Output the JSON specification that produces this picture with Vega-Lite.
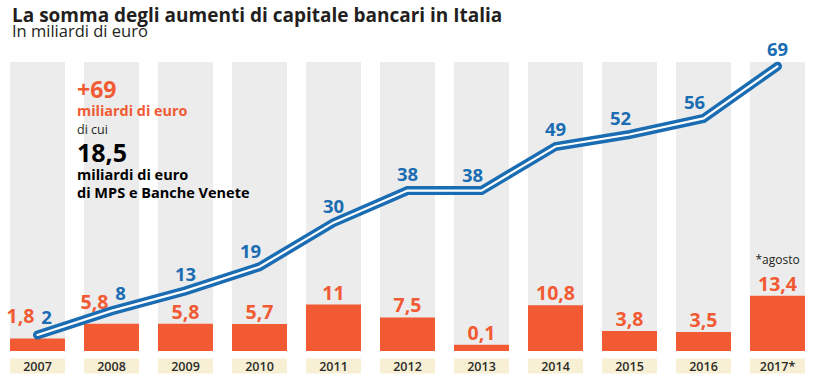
{
  "$schema": "https://vega.github.io/schema/vega-lite/v6.json",
  "width": 795,
  "height": 289,
  "autosize": {"type": "none"},
  "padding": {"left": 10, "top": 62, "right": 14, "bottom": 41},
  "background": "white",
  "title": {
    "text": "La somma degli aumenti di capitale bancari in Italia",
    "subtitle": "In miliardi di euro",
    "anchor": "start",
    "frame": "group",
    "dx": 2,
    "offset": 1,
    "font": "Open Sans",
    "fontSize": 19,
    "fontWeight": "bold",
    "color": "#231f20",
    "subtitleFont": "Open Sans",
    "subtitleFontSize": 16.5,
    "subtitleColor": "#231f20",
    "subtitlePadding": -2
  },
  "config": {
    "view": {"stroke": null},
    "locale": {"number": {"decimal": ",", "thousands": ".", "grouping": [3], "currency": ["", " €"]}},
    "text": {"font": "Open Sans", "fontWeight": "bold"}
  },
  "data": {
    "values": [
      {"year": "2007", "aumenti": 1.8, "cumulato": 2},
      {"year": "2008", "aumenti": 5.8, "cumulato": 8},
      {"year": "2009", "aumenti": 5.8, "cumulato": 13},
      {"year": "2010", "aumenti": 5.7, "cumulato": 19},
      {"year": "2011", "aumenti": 11, "cumulato": 30},
      {"year": "2012", "aumenti": 7.5, "cumulato": 38},
      {"year": "2013", "aumenti": 0.1, "cumulato": 38},
      {"year": "2014", "aumenti": 10.8, "cumulato": 49},
      {"year": "2015", "aumenti": 3.8, "cumulato": 52},
      {"year": "2016", "aumenti": 3.5, "cumulato": 56},
      {"year": "2017*", "aumenti": 13.4, "cumulato": 69, "note": "*agosto"}
    ]
  },
  "encoding": {
    "x": {
      "field": "year",
      "type": "nominal",
      "sort": null,
      "scale": {"paddingInner": 0.257, "paddingOuter": 0},
      "axis": {
        "title": null,
        "orient": "bottom",
        "offset": 7,
        "domain": false,
        "grid": false,
        "ticks": true,
        "tickSize": 15,
        "tickWidth": 55,
        "tickCap": "butt",
        "tickColor": "#f7f0d4",
        "labelAngle": 0,
        "labelBaseline": "middle",
        "labelPadding": -7,
        "labelFont": "Open Sans",
        "labelFontSize": 12.5,
        "labelFontWeight": 600,
        "labelColor": "#2b2b2b",
        "labelOverlap": false
      }
    }
  },
  "layer": [
    {
      "layer": [
        {"mark": {"type": "bar", "color": "#ececec"}},
        {
          "mark": {"type": "bar", "color": "#f15a33"},
          "encoding": {
            "y": {"field": "aumenti", "type": "quantitative", "scale": {"domain": [-1.63, 76.9], "zero": false, "nice": false}, "axis": null},
            "y2": {"datum": -1.63}
          }
        },
        {
          "transform": [{"filter": "datum.year != '2007' && datum.year != '2008'"}],
          "mark": {"type": "text", "baseline": "alphabetic", "dy": -5, "fontSize": 19.5, "color": "#f15a33"},
          "encoding": {
            "y": {"field": "aumenti", "type": "quantitative", "scale": {"domain": [-1.63, 76.9], "zero": false, "nice": false}, "axis": null},
            "text": {"field": "aumenti", "type": "quantitative", "format": ".1~f"}
          }
        },
        {
          "transform": [{"filter": "datum.year == '2007' || datum.year == '2008'"}],
          "mark": {"type": "text", "baseline": "alphabetic", "dy": -15, "dx": -17, "fontSize": 19.5, "color": "#f15a33"},
          "encoding": {
            "y": {"field": "aumenti", "type": "quantitative", "scale": {"domain": [-1.63, 76.9], "zero": false, "nice": false}, "axis": null},
            "text": {"field": "aumenti", "type": "quantitative", "format": ".1~f"}
          }
        },
        {
          "transform": [{"filter": "datum.note != null"}],
          "mark": {"type": "text", "baseline": "alphabetic", "dy": -32, "fontSize": 12, "fontWeight": "normal", "color": "#231f20"},
          "encoding": {
            "y": {"field": "aumenti", "type": "quantitative", "scale": {"domain": [-1.63, 76.9], "zero": false, "nice": false}, "axis": null},
            "text": {"field": "note"}
          }
        }
      ]
    },
    {
      "layer": [
        {
          "mark": {"type": "line", "color": "#1b6db3", "strokeWidth": 9, "strokeCap": "round", "strokeJoin": "miter"},
          "encoding": {
            "y": {"field": "cumulato", "type": "quantitative", "scale": {"domain": [-2, 70.07], "zero": false, "nice": false}, "axis": null}
          }
        },
        {
          "mark": {"type": "line", "color": "white", "strokeWidth": 2.2, "strokeCap": "round", "strokeJoin": "miter"},
          "encoding": {
            "y": {"field": "cumulato", "type": "quantitative", "scale": {"domain": [-2, 70.07], "zero": false, "nice": false}, "axis": null}
          }
        },
        {
          "transform": [{"filter": "indexof(['2009','2011','2012','2014','2017*'], datum.year) >= 0"}],
          "mark": {"type": "text", "baseline": "alphabetic", "dy": -10, "fontSize": 18.5, "color": "#1b6db3"},
          "encoding": {
            "y": {"field": "cumulato", "type": "quantitative", "scale": {"domain": [-2, 70.07], "zero": false, "nice": false}, "axis": null},
            "text": {"field": "cumulato", "type": "quantitative", "format": "d"}
          }
        },
        {
          "transform": [{"filter": "datum.year == '2007' || datum.year == '2008'"}],
          "mark": {"type": "text", "baseline": "alphabetic", "dy": -11, "dx": 9, "fontSize": 18.5, "color": "#1b6db3"},
          "encoding": {
            "y": {"field": "cumulato", "type": "quantitative", "scale": {"domain": [-2, 70.07], "zero": false, "nice": false}, "axis": null},
            "text": {"field": "cumulato", "type": "quantitative", "format": "d"}
          }
        },
        {
          "transform": [{"filter": "indexof(['2010','2013','2015','2016'], datum.year) >= 0"}],
          "mark": {"type": "text", "baseline": "alphabetic", "dy": -9, "dx": -9, "fontSize": 18.5, "color": "#1b6db3"},
          "encoding": {
            "y": {"field": "cumulato", "type": "quantitative", "scale": {"domain": [-2, 70.07], "zero": false, "nice": false}, "axis": null},
            "text": {"field": "cumulato", "type": "quantitative", "format": "d"}
          }
        },
        {
          "data": {"values": [{"t": "+69"}]},
          "mark": {"type": "text", "align": "left", "baseline": "alphabetic", "dx": -7, "fontSize": 23, "color": "#f15a33"},
          "encoding": {
            "x": {"datum": "2008", "bandPosition": 0},
            "y": {"datum": 61.1, "scale": {"domain": [-2, 70.07], "zero": false, "nice": false}, "axis": null},
            "text": {"field": "t"}
          }
        },
        {
          "data": {"values": [{"t": "miliardi di euro"}]},
          "mark": {"type": "text", "align": "left", "baseline": "alphabetic", "dx": -7, "fontSize": 14.4, "color": "#f15a33"},
          "encoding": {
            "x": {"datum": "2008", "bandPosition": 0},
            "y": {"datum": 56.6, "scale": {"domain": [-2, 70.07], "zero": false, "nice": false}, "axis": null},
            "text": {"field": "t"}
          }
        },
        {
          "data": {"values": [{"t": "di cui"}]},
          "mark": {"type": "text", "align": "left", "baseline": "alphabetic", "dx": -7, "fontSize": 12.5, "fontWeight": "normal", "color": "#231f20"},
          "encoding": {
            "x": {"datum": "2008", "bandPosition": 0},
            "y": {"datum": 52.1, "scale": {"domain": [-2, 70.07], "zero": false, "nice": false}, "axis": null},
            "text": {"field": "t"}
          }
        },
        {
          "data": {"values": [{"t": "18,5"}]},
          "mark": {"type": "text", "align": "left", "baseline": "alphabetic", "dx": -7, "fontSize": 25, "color": "#000000"},
          "encoding": {
            "x": {"datum": "2008", "bandPosition": 0},
            "y": {"datum": 45.1, "scale": {"domain": [-2, 70.07], "zero": false, "nice": false}, "axis": null},
            "text": {"field": "t"}
          }
        },
        {
          "data": {"values": [{"t": ["miliardi di euro", "di MPS e Banche Venete"]}]},
          "mark": {"type": "text", "align": "left", "baseline": "alphabetic", "dx": -7, "fontSize": 14.5, "lineHeight": 18, "color": "#000000"},
          "encoding": {
            "x": {"datum": "2008", "bandPosition": 0},
            "y": {"datum": 40.6, "scale": {"domain": [-2, 70.07], "zero": false, "nice": false}, "axis": null},
            "text": {"field": "t"}
          }
        }
      ]
    }
  ],
  "resolve": {"scale": {"y": "independent"}}
}
